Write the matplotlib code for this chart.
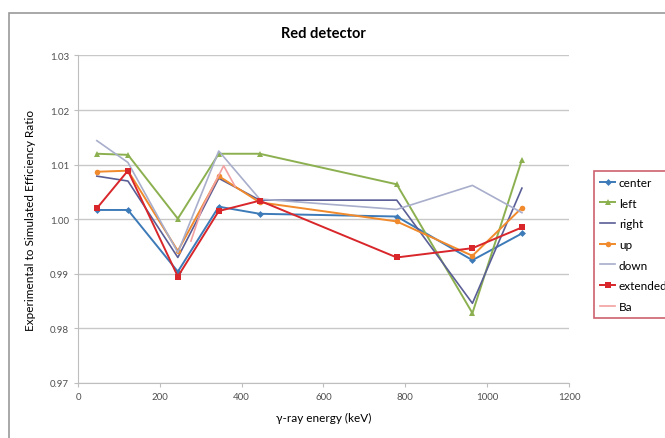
import matplotlib.pyplot as plt
from matplotlib.patches import Rectangle

plt.rcParams["font.family"] = ["Lato", "DejaVu Sans"]

# Gamma-ray energies (keV) of the measured lines
energy = [46, 122, 244, 344, 444, 779, 964, 1085]
ba_energy = [276, 303, 356, 384]

# Experimental / simulated efficiency ratio per source position
center = [1.0017, 1.0017, 0.9904, 1.0023, 1.0010, 1.0005, 0.9925, 0.9974]
left = [1.0120, 1.0118, 1.0001, 1.0120, 1.0120, 1.0064, 0.9828, 1.0109]
right = [1.0079, 1.0070, 0.9930, 1.0075, 1.0035, 1.0035, 0.9846, 1.0057]
up = [1.0087, 1.0089, 0.9942, 1.0079, 1.0031, 0.9996, 0.9933, 1.0021]
down = [1.0144, 1.0104, 0.9939, 1.0125, 1.0037, 1.0018, 1.0062, 1.0012]
extended = [1.0020, 1.0089, 0.9895, 1.0015, 1.0034, 0.9930, 0.9947, 0.9985]
ba = [0.9960, 1.0020, 1.0098, 1.0060]

series = [
    ("center", energy, center, "#3D7AB8", "D", 3.5, 1.4),
    ("left", energy, left, "#8CB050", "^", 4.0, 1.4),
    ("right", energy, right, "#5A5E96", None, 0, 1.2),
    ("up", energy, up, "#F08A2C", "o", 4.0, 1.4),
    ("down", energy, down, "#A8AECB", None, 0, 1.2),
    ("extended", energy, extended, "#D8262A", "s", 5.0, 1.4),
    ("Ba", ba_energy, ba, "#F2A0A0", None, 0, 1.2),
]

fig = plt.figure(figsize=(6.65, 4.39), dpi=100)
ax = fig.add_axes([0.1173, 0.1253, 0.7383, 0.746])

# chart area frame
fig.patches.append(Rectangle((8.5 / 665, -0.5), 1.5, 1.5 - 14 / 439,
                             transform=fig.transFigure, fill=False,
                             edgecolor="#9A9A9A", linewidth=1.2))

for name, x, y, color, marker, ms, lw in series:
    ax.plot(x, y, color=color, marker=marker, markersize=ms, linewidth=lw,
            label=name, markeredgewidth=0)

ax.set_xlim(0, 1200)
ax.set_ylim(0.97, 1.03)
ax.set_xticks(range(0, 1201, 200))
ax.set_yticks([0.97, 0.98, 0.99, 1.00, 1.01, 1.02, 1.03])
ax.set_yticklabels(["0.97", "0.98", "0.99", "1.00", "1.01", "1.02", "1.03"])
ax.yaxis.grid(True, color="#C8C8C8", linewidth=1.0)
ax.set_axisbelow(True)

for side in ("top", "right"):
    ax.spines[side].set_visible(False)
ax.spines["left"].set_color("#BEBEBE")
ax.spines["bottom"].set_color("#BEBEBE")
ax.tick_params(axis="both", colors="#BEBEBE", labelcolor="#505050",
               labelsize=7, length=3)

ax.set_title("Red detector", fontsize=10.5, fontweight="bold", pad=13)
ax.set_xlabel("\u03b3-ray energy (keV)", fontsize=8.5, labelpad=8)
ax.set_ylabel("Experimental to Simulated Efficiency Ratio", fontsize=8.5,
              labelpad=10)

# legend sits partly outside the figure, as in the original chart
leg = fig.legend(loc="upper left", bbox_to_anchor=(594 / 665, 1 - 172 / 439),
                 frameon=True, fontsize=8.5, handlelength=1.3,
                 handletextpad=0.3, labelspacing=0.82, borderaxespad=0,
                 borderpad=0.5, fancybox=False)
leg.get_frame().set_edgecolor("#C0394A")
leg.get_frame().set_linewidth(1.2)

fig.savefig("out.png", dpi=100)
